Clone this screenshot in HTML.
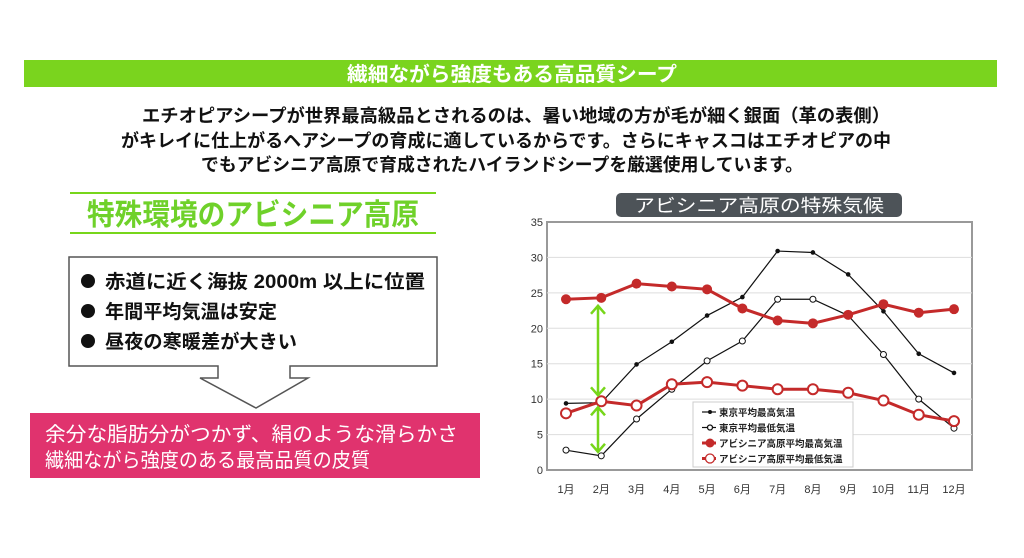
<!DOCTYPE html>
<html><head><meta charset="utf-8"><style>
html,body{margin:0;padding:0;background:#fff;width:1024px;height:558px;overflow:hidden}
svg{display:block}
text{font-family:"Liberation Sans","Noto Sans CJK JP",sans-serif}
</style></head><body>
<svg id="root" width="1024" height="558" viewBox="0 0 1024 558" xmlns="http://www.w3.org/2000/svg">
  <rect x="24" y="60" width="973" height="27" fill="#7ad41e"/>
  <text x="512" y="81" text-anchor="middle" font-size="20" font-weight="bold" fill="#fff" textLength="330" lengthAdjust="spacingAndGlyphs">繊細ながら強度もある高品質シープ</text>
  <g font-size="18" font-weight="bold" fill="#111">
    <text x="142" y="122" textLength="748" lengthAdjust="spacingAndGlyphs">エチオピアシープが世界最高級品とされるのは、暑い地域の方が毛が細く銀面（革の表側）</text>
    <text x="121" y="147" textLength="770" lengthAdjust="spacingAndGlyphs">がキレイに仕上がるヘアシープの育成に適しているからです。さらにキャスコはエチオピアの中</text>
    <text x="201" y="171" textLength="602" lengthAdjust="spacingAndGlyphs">でもアビシニア高原で育成されたハイランドシープを厳選使用しています。</text>
  </g>
  <line x1="70" y1="193" x2="436" y2="193" stroke="#77d61a" stroke-width="2"/>
  <line x1="70" y1="233" x2="436" y2="233" stroke="#77d61a" stroke-width="2"/>
  <text x="87" y="225" font-size="30" font-weight="bold" fill="#6fd12a" textLength="332" lengthAdjust="spacingAndGlyphs">特殊環境のアビシニア高原</text>
  <path d="M69 257 H437 V366 H290 V378 H308 L256 408 L200 378 H218 V366 H69 Z" fill="#fff" stroke="#555" stroke-width="1.5"/>
  <g font-size="19" font-weight="bold" fill="#111">
    <circle cx="88" cy="281" r="7" fill="#111"/>
    <text x="105" y="288" textLength="320" lengthAdjust="spacingAndGlyphs">赤道に近く海抜 2000m 以上に位置</text>
    <circle cx="88" cy="311" r="7" fill="#111"/>
    <text x="105" y="318" textLength="172" lengthAdjust="spacingAndGlyphs">年間平均気温は安定</text>
    <circle cx="88" cy="341" r="7" fill="#111"/>
    <text x="105" y="348" textLength="192" lengthAdjust="spacingAndGlyphs">昼夜の寒暖差が大きい</text>
  </g>
  <rect x="30" y="413" width="450" height="65" fill="#e0336e"/>
  <text x="45" y="441" font-size="20" fill="#fff" textLength="413" lengthAdjust="spacingAndGlyphs">余分な脂肪分がつかず、絹のような滑らかさ</text>
  <text x="45" y="467" font-size="20" fill="#fff" textLength="325" lengthAdjust="spacingAndGlyphs">繊細ながら強度のある最高品質の皮質</text>
  <rect x="616" y="193" width="286" height="24" rx="5" fill="#4d5358"/>
  <text x="759" y="212" text-anchor="middle" font-size="18" fill="#fff" textLength="250" lengthAdjust="spacingAndGlyphs">アビシニア高原の特殊気候</text>
  <g id="chart"></g>
</svg>
<script>
const months = ["1月","2月","3月","4月","5月","6月","7月","8月","9月","10月","11月","12月"];
const yTicks = [0,5,10,15,20,25,30,35];
const tokyoMax = [9.4,9.5,14.9,18.1,21.8,24.4,30.9,30.7,27.6,22.4,16.4,13.7];
const tokyoMin = [2.8,2.0,7.2,11.4,15.4,18.2,24.1,24.1,21.8,16.3,10.0,5.9];
const abyMax = [24.1,24.3,26.3,25.9,25.5,22.8,21.1,20.7,21.9,23.4,22.2,22.7];
const abyMin = [8.0,9.7,9.1,12.1,12.4,11.9,11.4,11.4,10.9,9.8,7.8,6.9];
const seriesNames = ["東京平均最高気温","東京平均最低気温","アビシニア高原平均最高気温","アビシニア高原平均最低気温"];

const NS = "http://www.w3.org/2000/svg";
const g = document.getElementById('chart');
const L=547, R=972, T=222, B=470;
const x = i => 566 + i*(954-566)/11;
const y = v => B - v*(B-T)/35;
function mk(tag, attrs, parent){const e=document.createElementNS(NS,tag);for(const k in attrs)e.setAttribute(k,attrs[k]);(parent||g).appendChild(e);return e;}

const plot = mk('rect',{x:L,y:T,width:R-L,height:B-T,fill:'#fff',stroke:'#999','stroke-width':2});


yTicks.forEach(t=>{
  if(t>0&&t<35){const gl=mk('line',{x1:L,x2:R,y1:y(t),y2:y(t),stroke:'#ddd','stroke-width':1});
  
  }
  const tl=mk('text',{x:L-4,y:y(t)+4,'text-anchor':'end','font-size':11,fill:'#333'});
  tl.textContent=t;
  
  
});
months.forEach((m,i)=>{
  const tl=mk('text',{x:x(i),y:493,'text-anchor':'middle','font-size':11,fill:'#333'});
  tl.textContent=m;
  
  
});
function series(data,color,w,r,filled,name){
  const p=mk('polyline',{points:data.map((v,i)=>x(i)+','+y(v)).join(' '),fill:'none',stroke:color,'stroke-width':w});
  
  
  data.forEach((v,i)=>{
    const c=mk('circle',{cx:x(i),cy:y(v),r:r,fill:filled?color:'#fff',stroke:color,'stroke-width':filled?0:(w>2?2:1)});
    
    
  });
}
series(tokyoMax,'#111',1.2,2.3,true,'tokyo-max');
series(tokyoMin,'#111',1.2,3,false,'tokyo-min');
series(abyMax,'#c42a2a',3,5,true,'abyssinia-max');
series(abyMin,'#c42a2a',3,5,false,'abyssinia-min');
function darrow(y1,y2){
  const a=mk('path',{d:`M598 ${y1} V${y2} M591 ${y1+8} L598 ${y1} L605 ${y1+8} M591 ${y2-8} L598 ${y2} L605 ${y2-8}`,stroke:'#77d61a','stroke-width':2.5,fill:'none'});
  
  
}
darrow(y(abyMax[1])+8,y(abyMin[1])-6);
darrow(y(abyMin[1])+6,y(tokyoMin[1])-4);
const lg=mk('rect',{x:693,y:402,width:160,height:65,fill:'#fff',stroke:'#ccc'});


const styles=[['#111',1.2,2,true],['#111',1.2,2.5,false],['#c42a2a',3,4.5,true],['#c42a2a',3,4.5,false]];
seriesNames.forEach((n,i)=>{
  const yy=412+i*15.5;const s=styles[i];
  mk('line',{x1:702,x2:716,y1:yy,y2:yy,stroke:s[0],'stroke-width':s[1]});
  const c=mk('circle',{cx:710,cy:yy,r:s[2],fill:s[3]?s[0]:'#fff',stroke:s[0],'stroke-width':s[3]?0:1.3});
  
  
  const t=mk('text',{x:719,y:yy+4,'font-size':9.5,'font-weight':'bold',fill:'#222'});
  t.textContent=n;
  
  
});
</script>
</body></html>
